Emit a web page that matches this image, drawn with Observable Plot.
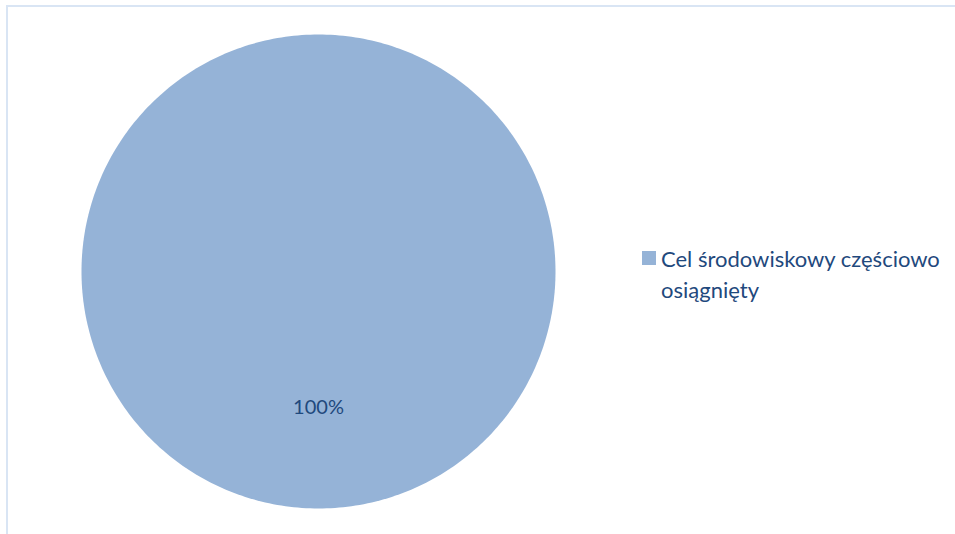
<!DOCTYPE html>
<html>
<head>
<meta charset="utf-8">
<script src="https://cdn.jsdelivr.net/npm/d3@7"></script>
<script src="https://cdn.jsdelivr.net/npm/@observablehq/plot@0.6"></script>
<style>
  html, body { margin: 0; padding: 0; background: #fff; }
  #wrap { position: relative; width: 955px; height: 534px; overflow: hidden; }
  #frame { position: absolute; left: 6px; top: 5px; width: 1000px; height: 600px; border: 2px solid #d9e5f4; box-sizing: border-box; }
  #chart { position: absolute; left: 0; top: 0; }
  #legend { position: absolute; left: 642px; top: 243px; font-family: Lato, "Open Sans", sans-serif; font-size: 22px; line-height: 31px; color: #1f497d; }
  #legend .sw { position: absolute; left: 0; top: 8px; width: 14px; height: 14px; }
  #legend .lbl { position: absolute; left: 19px; top: 0; white-space: nowrap; }
</style>
</head>
<body>
<div id="wrap">
  <div id="frame"></div>
  <div id="chart"></div>
  <div id="legend"></div>
</div>
<script>
const categories = ["Cel środowiskowy częściowo osiągnięty"];
const values = [100];
const labels = ["100%"];
const legendLines = [["Cel środowiskowy częściowo", "osiągnięty"]];
const colors = ["#95b3d7"];
const labelColor = "#1f497d";

const pie = d3.pie().sort(null)(values);
// polygon outline points of each slice (geometry of the arcs)
const slicePts = [];
pie.forEach((s, i) => {
  const n = 360;
  const full = (s.endAngle - s.startAngle) >= 2 * Math.PI - 1e-9;
  if (!full) slicePts.push({cat: categories[i], x: 0, y: 0});
  for (let k = 0; k <= n; k++) {
    const a = s.startAngle + (s.endAngle - s.startAngle) * k / n;
    slicePts.push({cat: categories[i], x: Math.sin(a), y: Math.cos(a)});
  }
});
const labelPts = pie.map((s, i) => {
  const a = (s.startAngle + s.endAngle) / 2;
  const rr = 0.574;
  return {label: labels[i], x: rr * Math.sin(a), y: rr * Math.cos(a)};
});

const chart = Plot.plot({
  width: 955,
  height: 534,
  margin: 0,
  style: {background: "transparent", overflow: "visible"},
  x: {domain: [-1, 1], range: [81, 555], axis: null},
  y: {domain: [-1, 1], range: [508, 34], axis: null},
  color: {domain: categories, range: colors},
  marks: [
    Plot.line(slicePts, {x: "x", y: "y", z: "cat", fill: "cat", stroke: "none", curve: "linear-closed"}),
    Plot.text(labelPts, {x: "x", y: "y", text: "label", fill: labelColor, fontSize: 20, fontFamily: "Lato, 'Open Sans', sans-serif"})
  ]
});
document.getElementById("chart").appendChild(chart);

const legend = document.getElementById("legend");
categories.forEach((c, i) => {
  const sw = document.createElement("div");
  sw.className = "sw";
  sw.style.background = colors[i];
  legend.appendChild(sw);
  const lbl = document.createElement("div");
  lbl.className = "lbl";
  lbl.innerHTML = legendLines[i].join("<br>");
  legend.appendChild(lbl);
});
</script>
</body>
</html>
